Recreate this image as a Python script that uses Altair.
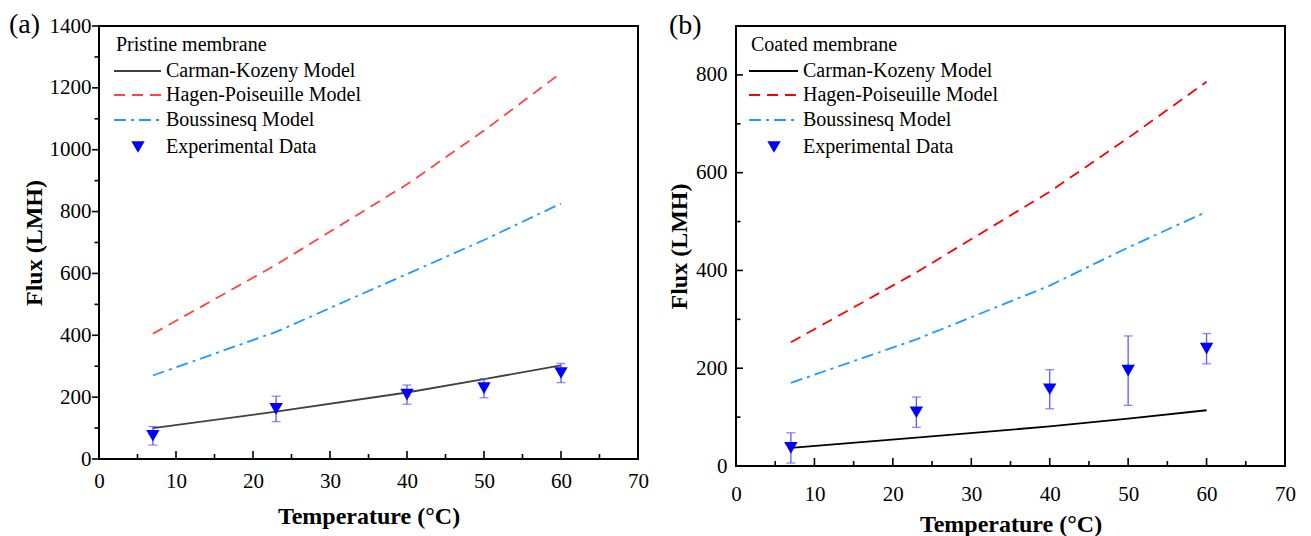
import altair as alt
import pandas as pd

# ---------------- data ----------------
temps = [7, 23, 40, 50, 60]

a_ck = [100, 153, 215, 258, 303]
a_hp = [405, 628, 888, 1062, 1248]
a_bq = [270, 411, 598, 708, 826]
a_exp = [75, 162, 208, 229, 278]
a_err = [30, 41, 31, 31, 31]

b_ck = [37, 58, 81, 97, 114]
b_hp = [253, 396, 561, 671, 786]
b_bq = [170, 259, 369, 447, 520]
b_exp = [37, 110, 157, 195, 240]
b_err = [31, 31, 40, 71, 31]

x_major = [0, 10, 20, 30, 40, 50, 60, 70]
x_minor = [5, 15, 25, 35, 45, 55, 65]
a_y_major = [0, 200, 400, 600, 800, 1000, 1200, 1400]
a_y_minor = [100, 300, 500, 700, 900, 1100, 1300]
b_y_major = [0, 200, 400, 600, 800]
b_y_minor = [100, 300, 500, 700]

legend_labels = ["Carman-Kozeny Model", "Hagen-Poiseuille Model",
                 "Boussinesq Model", "Experimental Data"]
panel_tags = ["(a)", "(b)"]
panel_titles = ["Pristine membrane", "Coated membrane"]
x_title = "Temperature (°C)"
y_title = "Flux (LMH)"

FONT = "Liberation Serif"
BQ_COLOR = "#1E9BFF"
EXP_COLOR = "#0000FF"
ERR_COLOR = "#5A5AFF"
HP_DASH = [11, 7]
BQ_DASH = [12, 5, 3, 5]
TICK_FS = 21


def one(label):
    return alt.Chart(pd.DataFrame({"label": [label]}))


def make_panel(tag, ptitle, ck, hp, bq, exp, err, ymax, ymaj, ymin, W, H,
               ck_color, hp_color, y_out, y_lab_pad, x_lab_pad, x_title_y,
               y_title_x, tag_x, tag_y, leg_x0, leg_title_x, leg_tri_x):
    df = pd.DataFrame({
        "T": temps, "ck": ck, "hp": hp, "bq": bq, "exp": exp,
        "lo": [e - d for e, d in zip(exp, err)],
        "hi": [e + d for e, d in zip(exp, err)],
    })
    xs = alt.Scale(domain=[0, 70], nice=False, zero=False)
    ys = alt.Scale(domain=[0, ymax], nice=False, zero=False)
    xaxis = alt.Axis(values=x_major, ticks=False, tickSize=0, domain=False, grid=False,
                     format="d",
                     labelFont=FONT, labelFontSize=TICK_FS, labelColor="black",
                     labelPadding=x_lab_pad, labelBaseline="middle",
                     labelFlush=False, labelOverlap=False,
                     title=x_title, titleFont=FONT, titleFontSize=24,
                     titleFontWeight="bold", titleColor="black",
                     titleBaseline="middle", titleY=x_title_y, titleX=W / 2)
    yaxis = alt.Axis(values=ymaj, ticks=False, tickSize=0, domain=False, grid=False,
                     format="d",
                     labelFont=FONT, labelFontSize=TICK_FS, labelColor="black",
                     labelPadding=y_lab_pad, labelFlush=False, labelOverlap=False,
                     title=y_title, titleFont=FONT, titleFontSize=24,
                     titleFontWeight="bold", titleColor="black", titleAngle=-90,
                     titleBaseline="middle", titleX=y_title_x, titleY=H / 2)
    base = alt.Chart(df)
    xn = lambda f: alt.X(f, scale=xs, axis=xaxis)
    yn = lambda f: alt.Y(f, scale=ys, axis=yaxis)

    ck_line = base.mark_line(color=ck_color, strokeWidth=1.8).encode(
        x=xn("T:Q"), y=yn("ck:Q"))
    hp_line = base.mark_line(color=hp_color, strokeWidth=1.8, strokeDash=HP_DASH).encode(
        x=xn("T:Q"), y=yn("hp:Q"))
    bq_line = base.mark_line(color=BQ_COLOR, strokeWidth=1.8, strokeDash=BQ_DASH).encode(
        x=xn("T:Q"), y=yn("bq:Q"))
    err_rule = base.mark_rule(color=ERR_COLOR, strokeWidth=1.3).encode(
        x=xn("T:Q"), y=yn("lo:Q"), y2="hi:Q")
    cap_lo = base.mark_tick(color=ERR_COLOR, orient="horizontal", size=9, thickness=1.3).encode(
        x=xn("T:Q"), y=yn("lo:Q"))
    cap_hi = base.mark_tick(color=ERR_COLOR, orient="horizontal", size=9, thickness=1.3).encode(
        x=xn("T:Q"), y=yn("hi:Q"))
    pts = base.mark_point(shape="triangle-down", filled=True, size=180,
                          color=EXP_COLOR, opacity=1, strokeWidth=0).encode(
        x=xn("T:Q"), y=yn("exp:Q"))

    # axis ticks (x inward)
    xt_maj = alt.Chart(pd.DataFrame({"T": x_major})).mark_rule(color="black", strokeWidth=1.6).encode(
        x=xn("T:Q"), y=alt.value(H), y2=alt.value(H - 8))
    xt_min = alt.Chart(pd.DataFrame({"T": x_minor})).mark_rule(color="black", strokeWidth=1.6).encode(
        x=xn("T:Q"), y=alt.value(H), y2=alt.value(H - 5))
    sgn = -1 if y_out else 1
    yt_maj = alt.Chart(pd.DataFrame({"ck": ymaj})).mark_rule(color="black", strokeWidth=1.6).encode(
        y=yn("ck:Q"), x=alt.value(0), x2=alt.value(sgn * 7))
    yt_min = alt.Chart(pd.DataFrame({"ck": ymin})).mark_rule(color="black", strokeWidth=1.6).encode(
        y=yn("ck:Q"), x=alt.value(0), x2=alt.value(sgn * 4.5))

    # panel tag
    tag_txt = one(tag).mark_text(font=FONT, fontSize=28, align="left", baseline="middle",
                                 color="black").encode(
        text="label:N", x=alt.value(tag_x), y=alt.value(tag_y))

    # legend
    rows = [45, 69, 94, 121]
    leg = [one(ptitle).mark_text(font=FONT, fontSize=20, align="left", baseline="middle",
                                 color="black").encode(
        text="label:N", x=alt.value(leg_title_x), y=alt.value(19))]
    styles = [dict(color=ck_color), dict(color=hp_color, strokeDash=HP_DASH),
              dict(color=BQ_COLOR, strokeDash=BQ_DASH)]
    for i in range(3):
        leg.append(one(legend_labels[i]).mark_rule(strokeWidth=1.8, **styles[i]).encode(
            x=alt.value(leg_x0), x2=alt.value(62), y=alt.value(rows[i])))
    leg.append(one(legend_labels[3]).mark_point(shape="triangle-down", filled=True, size=180,
                                                color=EXP_COLOR, opacity=1, strokeWidth=0).encode(
        x=alt.value(leg_tri_x), y=alt.value(rows[3])))
    for i in range(4):
        leg.append(one(legend_labels[i]).mark_text(font=FONT, fontSize=20, align="left",
                                                   baseline="middle", color="black").encode(
            text="label:N", x=alt.value(67), y=alt.value(rows[i])))

    return alt.layer(ck_line, hp_line, bq_line, err_rule, cap_lo, cap_hi, pts,
                     xt_maj, xt_min, yt_maj, yt_min, tag_txt, *leg).properties(
        width=W, height=H)


pa = make_panel(panel_tags[0], panel_titles[0], a_ck, a_hp, a_bq, a_exp, a_err,
                1400, a_y_major, a_y_minor, 539, 433, "#404040", "#FF4444",
                True, 8, 22, 57, -65, -90, -1, 15, 17, 39)
pb = make_panel(panel_tags[1], panel_titles[1], b_ck, b_hp, b_bq, b_exp, b_err,
                900, b_y_major, b_y_minor, 549, 440, "#000000", "#FF0000",
                False, 9, 28, 58, -57, -67, 0, 13, 15, 38)

chart = alt.hconcat(pa, pb, spacing=98, bounds="flush").properties(
    padding={"left": 8, "top": 10, "right": 5, "bottom": 2},
    background="white",
).configure_view(stroke="black", strokeWidth=2)

chart.save("out.html", embed_options={"renderer": "svg", "actions": False})
